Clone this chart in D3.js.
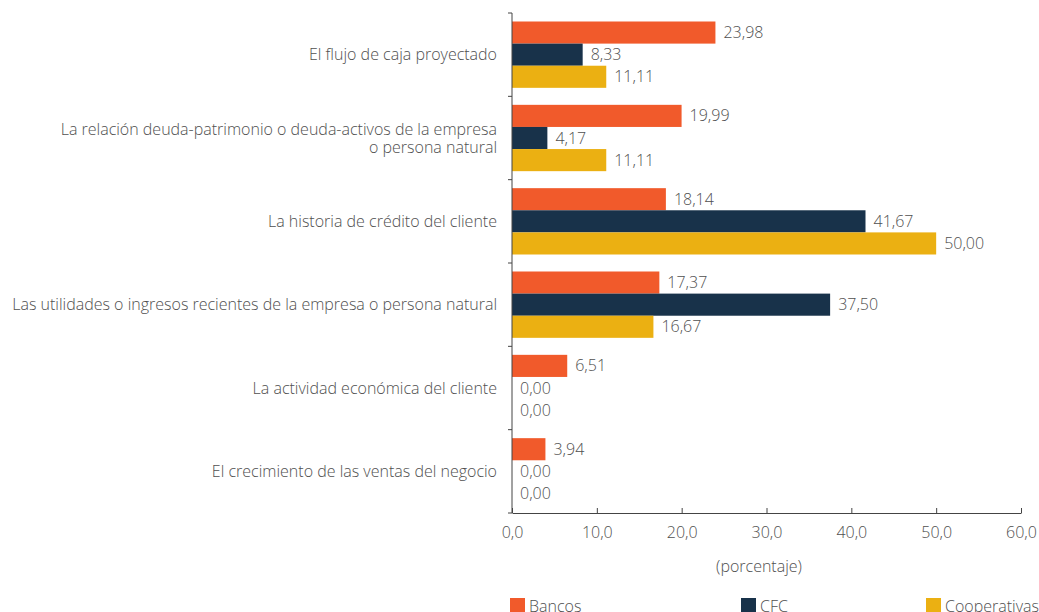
<!DOCTYPE html>
<html>
<head>
<meta charset="utf-8">
<script src="https://cdn.jsdelivr.net/npm/d3@7"></script>
<style>
  body { margin: 0; background: #fff; }
  svg { font-family: "Open Sans", sans-serif; font-weight: 300; }
  .axis path, .axis line { stroke: #444; }
  .axis text { font-family: "Open Sans", sans-serif; font-weight: 300; font-size: 16px; fill: #505050; }
</style>
</head>
<body>
<script>
var categories = [
  ["El flujo de caja proyectado"],
  ["La relación deuda-patrimonio o deuda-activos de la empresa", "o persona natural"],
  ["La historia de crédito del cliente"],
  ["Las utilidades o ingresos recientes de la empresa o persona natural"],
  ["La actividad económica del cliente"],
  ["El crecimiento de las ventas del negocio"]
];
var series = ["Bancos", "CFC", "Cooperativas"];
var bancos = [23.98, 19.99, 18.14, 17.37, 6.51, 3.94];
var cfc = [8.33, 4.17, 41.67, 37.50, 0, 0];
var cooperativas = [11.11, 11.11, 50.00, 16.67, 0, 0];
var xTicks = [0, 10, 20, 30, 40, 50, 60];

var colors = {"Bancos": "#F15A2B", "CFC": "#18324A", "Cooperativas": "#EBB012"};
var values = {"Bancos": bancos, "CFC": cfc, "Cooperativas": cooperativas};

var width = 1039, height = 612;
var svg = d3.select("body").append("svg")
    .attr("width", width)
    .attr("height", height);

var xScale = d3.scaleLinear().domain([0, 60]).range([512, 1021]);
var yScale = d3.scaleBand().domain(d3.range(categories.length)).range([13, 513]);
var ySub = d3.scaleBand().domain(series).range([8.5, yScale.bandwidth() - 8.5]);

var fmt = function(v){ return v.toFixed(2).replace(".", ","); };

// bars
series.forEach(function(s){
    var g = svg.append("g");
    g.selectAll("rect")
      .data(values[s])
      .enter().append("rect")
        .attr("x", xScale(0))
        .attr("y", function(d, i){ return yScale(i) + ySub(s); })
        .attr("width", function(d){ return xScale(d) - xScale(0); })
        .attr("height", ySub.bandwidth())
        .attr("fill", colors[s]);

    g.selectAll("text")
      .data(values[s])
      .enter().append("text")
        .attr("x", function(d){ return xScale(d) + 8; })
        .attr("y", function(d, i){ return yScale(i) + ySub(s) + ySub.bandwidth() / 2; })
        .attr("dy", "0.35em")
        .attr("font-size", "16px")
        .attr("fill", "#505050")
        .text(function(d){ return fmt(d); });
});

// x axis
svg.append("g")
    .attr("class", "axis")
    .attr("transform", "translate(0,513)")
    .call(d3.axisBottom(xScale).tickValues(xTicks).tickSizeInner(-5).tickSizeOuter(0)
        .tickFormat(function(d){ return d.toFixed(1).replace(".", ","); }))
    .call(function(g){ g.selectAll(".tick text").attr("y", 14); });

// y axis with boundary ticks
var yAxisG = svg.append("g").attr("class", "axis");
yAxisG.append("line")
    .attr("x1", 512).attr("x2", 512)
    .attr("y1", yScale.range()[0]).attr("y2", yScale.range()[1]);
yAxisG.selectAll(".bt")
    .data(d3.range(categories.length + 1))
    .enter().append("line")
      .attr("x1", 508).attr("x2", 512)
      .attr("y1", function(i){ return yScale.range()[0] + i * yScale.step(); })
      .attr("y2", function(i){ return yScale.range()[0] + i * yScale.step(); });

// category labels
svg.selectAll(".cat")
  .data(categories)
  .enter().append("text")
    .attr("class", "cat")
    .attr("text-anchor", "end")
    .attr("font-size", "16px")
    .attr("fill", "#505050")
    .each(function(lines, i){
        var cy = yScale(i) + yScale.bandwidth() / 2;
        var t = d3.select(this);
        lines.forEach(function(l, j){
            t.append("tspan")
              .attr("x", 497)
              .attr("y", cy + (j - (lines.length - 1) / 2) * 18)
              .attr("dy", "0.35em")
              .text(l);
        });
    });

// axis title
svg.append("text")
    .attr("x", 759)
    .attr("y", 566)
    .attr("dy", "0.35em")
    .attr("text-anchor", "middle")
    .attr("font-size", "16px")
    .attr("fill", "#505050")
    .text("(porcentaje)");

// legend
var legendX = [510, 741, 926];
series.forEach(function(s, i){
    svg.append("rect")
        .attr("x", legendX[i]).attr("y", 598)
        .attr("width", 15).attr("height", 15)
        .attr("fill", colors[s]);
    svg.append("text")
        .attr("x", legendX[i] + 19)
        .attr("y", 612)
        .attr("font-size", "16px")
        .attr("fill", "#505050")
        .text(s);
});
</script>
</body>
</html>
